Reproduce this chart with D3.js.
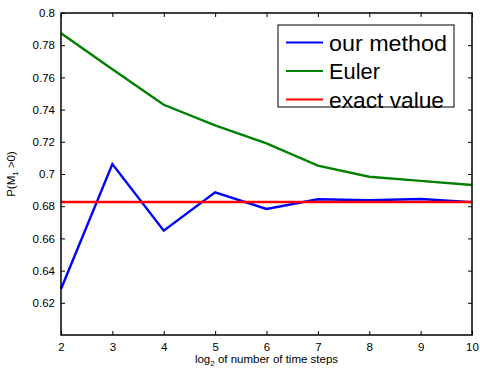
<!DOCTYPE html>
<html><head><meta charset="utf-8">
<script src="https://cdn.jsdelivr.net/npm/d3@7"></script>
<style>body{margin:0;background:#fff}svg{display:block}</style>
</head><body>
<svg id="c" width="480" height="371"></svg>
<script>
const steps = [2,3,4,5,6,7,8,9,10];
const ourMethod = [0.6286,0.7062,0.6648,0.6886,0.6783,0.6843,0.6837,0.6845,0.6825];
const euler = [0.7874,0.7650,0.7430,0.7302,0.7190,0.7052,0.6983,0.6957,0.6932];
const exactValue = 0.6826;
const xTicks = [2,3,4,5,6,7,8,9,10];
const yTicks = [0.62,0.64,0.66,0.68,0.7,0.72,0.74,0.76,0.78,0.8];
const legendLabels = ["our method","Euler","exact value"];
const colors = ["#0000ff","#008000","#ff0000"];

const L=61,R=472,T=13,B=335;
const svg=d3.select("#c");
const x=d3.scaleLinear().domain([2,10]).range([L,R]);
const y=d3.scaleLinear().domain([0.6,0.8]).range([B,T]);
const font="Liberation Sans, Arial, Helvetica, sans-serif";

const g=svg.append("g");
const line=d3.line().x((d,i)=>x(steps[i])).y(d=>y(d));
g.append("path").attr("d",line(ourMethod)).attr("fill","none").attr("stroke",colors[0]).attr("stroke-width",2.4);
g.append("path").attr("d",line(euler)).attr("fill","none").attr("stroke",colors[1]).attr("stroke-width",2.4);
g.append("line").attr("x1",x(2)).attr("x2",x(10)).attr("y1",y(exactValue)).attr("y2",y(exactValue)).attr("stroke",colors[2]).attr("stroke-width",2.4);

const ax=svg.append("g").attr("transform",`translate(0,${B})`).call(d3.axisBottom(x).tickValues(xTicks).tickSizeInner(-4).tickSizeOuter(0).tickPadding(8).tickFormat(d3.format("d")));
const axT=svg.append("g").attr("transform",`translate(0,${T})`).call(d3.axisTop(x).tickValues(xTicks).tickSizeInner(-4).tickSizeOuter(0).tickFormat(""));
const ay=svg.append("g").attr("transform",`translate(${L},0)`).call(d3.axisLeft(y).tickValues(yTicks).tickSizeInner(-4).tickSizeOuter(0).tickPadding(6).tickFormat(d=>String(+d.toFixed(2))));
const ayR=svg.append("g").attr("transform",`translate(${R},0)`).call(d3.axisRight(y).tickValues(yTicks).tickSizeInner(-4).tickSizeOuter(0).tickFormat(""));
[ax,axT,ay,ayR].forEach(a=>{a.select(".domain").remove();a.selectAll("line").attr("stroke","#000");a.selectAll("text").attr("font-family",font).attr("font-size",11.5).attr("fill","#000");});
svg.append("rect").attr("x",L).attr("y",T).attr("width",R-L).attr("height",B-T).attr("fill","none").attr("stroke","#000").attr("stroke-width",1.5);

const xl=svg.append("text").attr("x",(L+R)/2).attr("y",363).attr("text-anchor","middle").attr("font-family",font).attr("font-size",11.5);
xl.append("tspan").text("log");
xl.append("tspan").attr("font-size",8).attr("dy",3).text("2");
xl.append("tspan").attr("dy",-3).text(" of number of time steps");
const yl=svg.append("text").attr("transform",`translate(15,${(T+B)/2}) rotate(-90)`).attr("text-anchor","middle").attr("font-family",font).attr("font-size",11.5);
yl.append("tspan").text("P(M");
yl.append("tspan").attr("font-size",8).attr("dy",3).text("1");
yl.append("tspan").attr("dy",-3).text(" >0)");

const lg=svg.append("g");
lg.append("rect").attr("x",278).attr("y",25).attr("width",176).attr("height",82).attr("fill","#fff").attr("stroke","#000").attr("stroke-width",1);
const rows=[42.5,71,99.5];
const lens=[118,51,115];
legendLabels.forEach((t,i)=>{
  lg.append("line").attr("x1",286).attr("x2",323).attr("y1",rows[i]).attr("y2",rows[i]).attr("stroke",colors[i]).attr("stroke-width",2.2);
  lg.append("text").attr("x",329).attr("y",rows[i]+8).attr("font-family",font).attr("font-size",22.5).attr("textLength",lens[i]).attr("lengthAdjust","spacingAndGlyphs").text(t);
});
</script>
</body></html>
